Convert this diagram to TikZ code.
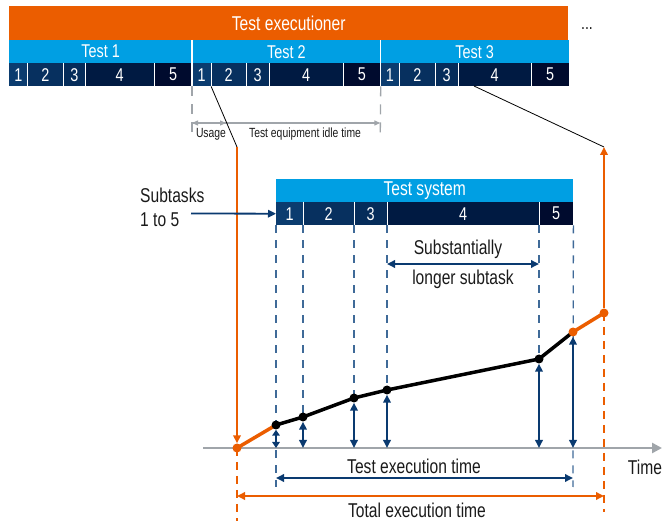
\documentclass[tikz,border=0pt]{standalone}
\usepackage{fontspec}
\setmainfont{Liberation Sans}[FakeStretch=0.78]
\usetikzlibrary{arrows.meta}
\definecolor{rsorange}{HTML}{EB5D00}
\definecolor{rsblue}{HTML}{009FE3}
\definecolor{sa}{HTML}{0B3C6F}
\definecolor{sb}{HTML}{07305F}
\definecolor{sc}{HTML}{052C5A}
\definecolor{sd}{HTML}{001A42}
\definecolor{se}{HTML}{000B2E}
\definecolor{arrblue}{HTML}{0A3A70}
\definecolor{dashblue}{HTML}{3F6A98}
\definecolor{axisgray}{HTML}{A0A5AA}
\definecolor{txt}{HTML}{1A1A1A}
\tikzset{
  bigfont/.style={font=\fontsize{20}{24}\selectfont},
  segfont/.style={font=\fontsize{18.5}{20}\selectfont},
  seg/.style={segfont, text=white, inner sep=0pt, minimum height=23pt, anchor=north west},
  lbl/.style={bigfont, text=txt, inner sep=0pt},
  smalllbl/.style={font=\fontsize{13.3}{15}\selectfont, text=txt, inner sep=0pt},
  barr/.style={draw=arrblue, line width=1.8pt, arrows={Triangle[length=8pt,width=7.5pt]-Triangle[length=8pt,width=7.5pt]}},
  barrone/.style={draw=arrblue, line width=1.8pt, -{Triangle[length=8pt,width=7.5pt]}},
  oarr/.style={draw=rsorange, line width=1.8pt, -{Triangle[length=8pt,width=7.5pt]}},
  oarrtwo/.style={draw=rsorange, line width=1.8pt, {Triangle[length=8pt,width=7.5pt]}-{Triangle[length=8pt,width=7.5pt]}},
  garr/.style={draw=axisgray, line width=1.3pt},
  gdash/.style={draw=axisgray, line width=1.3pt, dash pattern=on 10pt off 8pt},
  bdash/.style={draw=dashblue, line width=1.3pt, dash pattern=on 8pt off 7pt},
  odash/.style={draw=rsorange, line width=1.3pt, dash pattern=on 8pt off 6pt},
  bdot/.style={circle, fill=black, inner sep=0pt, minimum size=9pt},
  odot/.style={circle, fill=rsorange, inner sep=0pt, minimum size=9pt},
  curve/.style={line width=3.5pt, line cap=round, line join=round},
  divider/.style={draw=white, line width=0.8pt},
}
\begin{document}
\begin{tikzpicture}[x=1pt,y=-1pt]
\useasboundingbox (0,0) rectangle (662,521);

% ---- top bars ----
\node[fill=rsorange, text=white, bigfont, inner sep=0pt, minimum width=559pt, minimum height=34pt, anchor=north west] (exec) at (9,6) {Test executioner};
\node[font=\fontsize{18}{20}\selectfont, text=txt, inner sep=0pt, anchor=base] (more) at (587,30) {...};

\foreach \a/\b/\l/\n in {9/192/Test 1/test1, 192/380.3/Test 2/test2, 380.3/568.7/Test 3/test3}{
  \pgfmathsetmacro\w{\b-\a}
  \node[seg, fill=rsblue, minimum width=\w pt] (\n) at (\a,40) {\l};
}
\foreach \a/\b/\c/\l/\n in {
  9/27.3/sa/1/a1, 27.3/63/sb/2/a2, 63/85.3/sc/3/a3, 85.3/153.7/sd/4/a4, 153.7/192/se/5/a5,
  192/210.7/sa/1/b1, 210.7/246.3/sb/2/b2, 246.3/268.7/sc/3/b3, 268.7/343.3/sd/4/b4, 343.3/380.3/se/5/b5,
  380.3/399.3/sa/1/c1, 399.3/435.3/sb/2/c2, 435.3/457.7/sc/3/c3, 457.7/531.3/sd/4/c4, 531.3/568.7/se/5/c5}{
  \pgfmathsetmacro\w{\b-\a}
  \node[seg, fill=\c, minimum width=\w pt] (\n) at (\a,63) {\l};
}
\foreach \n in {a1,a2,a3,a4,b1,b2,b3,b4,c1,c2,c3,c4}{
  \draw[divider] (\n.north east) -- (\n.south east);
}
\draw[draw=white, line width=1.2pt] (test2.north west) -- (b1.south west);
\draw[draw=white, line width=1.2pt] (test3.north west) -- (c1.south west);

% ---- usage / idle ----
\coordinate (g1) at (192,123);
\coordinate (g2) at (226,123);
\coordinate (g3) at (380.3,123);
\coordinate (gd1) at (192,133);
\coordinate (gd2) at (380.3,133);
\draw[gdash] (b1.south west) -- (gd1);
\draw[gdash] (b5.south east) -- (gd2);
\draw[garr, {Triangle[length=6pt,width=5pt]}-{Triangle[length=6pt,width=5pt]}] (g1) -- (g3);
\draw[garr, -{Triangle[length=6pt,width=5pt]}] (g1) -- (g2);
\node[smalllbl] (usage) at (211,134) {Usage};
\node[smalllbl] (idle) at (305,134) {Test equipment idle time};

% ---- test system ----
\node[seg, fill=rsblue, minimum width=297pt, font=\fontsize{20}{22}\selectfont] (tsys) at (276,179) {Test system};
\foreach \a/\b/\c/\l/\n in {276/303/sa/1/ts1, 303/354/sb/2/ts2, 354/387/sc/3/ts3, 387/539/sd/4/ts4, 539/573/se/5/ts5}{
  \pgfmathsetmacro\w{\b-\a}
  \node[seg, fill=\c, minimum width=\w pt] (\n) at (\a,202) {\l};
}
\foreach \n in {ts1,ts2,ts3,ts4}{
  \draw[divider] (\n.north east) -- (\n.south east);
}

\node[lbl, align=left, anchor=west] (subtxt) at (140,207) {Subtasks\\1 to 5};
\coordinate (subarr) at (191,213.5);

% ---- curve points ----
\coordinate (ax0) at (203,448);
\coordinate (ax1) at (662,448);
\coordinate (otop) at (237,147);
\coordinate (otop2) at (604,147);
\coordinate (l2s) at (474,86);
\coordinate (f1) at (276,448);
\coordinate (f2) at (303,448);
\coordinate (f3) at (354,448);
\coordinate (f4) at (387,448);
\coordinate (f5) at (539,448);
\coordinate (f6) at (573,448);
\coordinate (d1) at (276,487);
\coordinate (d6) at (573,487);
\coordinate (od0) at (237,521);
\coordinate (od7) at (604,512);

% dashed guides
\draw[bdash] (ts1.south west) -- (d1);
\draw[bdash] (ts2.south west) -- (303,417);
\draw[bdash] (ts3.south west) -- (354,398);
\draw[bdash] (ts4.south west) -- (387,390);
\draw[bdash] (ts5.south west) -- (539,359);
\draw[bdash] (ts5.south east) -- (d6);
\draw[odash] (237,448) -- (od0);
\draw[odash] (604,313) -- (od7);

% axis
\draw[draw=axisgray, line width=2.8pt, -{Triangle[length=10pt,width=10pt]}] (ax0) -- (ax1);
\node[lbl] (time) at (645,467) {Time};

% thin connectors
\draw[line width=0.8pt, draw=black] (b1.south east) -- (otop);
\draw[line width=0.8pt, draw=black] (l2s) -- (otop2);

% curve
\draw[curve, draw=rsorange] (237,448) -- (276,425);
\draw[curve, draw=black] (276,425) -- (303,417) -- (354,398) -- (387,390) -- (539,359) -- (573,332);
\draw[curve, draw=rsorange] (573,332) -- (604,313);

\node[odot] (p0) at (237,448) {};
\node[bdot] (p1) at (276,425) {};
\node[bdot] (p2) at (303,417) {};
\node[bdot] (p3) at (354,398) {};
\node[bdot] (p4) at (387,390) {};
\node[bdot] (p5) at (539,359) {};
\node[odot] (p6) at (573,332) {};
\node[odot] (p7) at (604,313) {};

% orange verticals
\draw[oarr] (otop) -- (p0);
\draw[oarr] (p7) -- (otop2);

% subtasks arrow
\draw[barrone] (subarr) -- (ts1.west);

% height arrows
\draw[barr, arrows={Triangle[length=6pt,width=7.5pt]-Triangle[length=6pt,width=7.5pt]}] (p1) -- (f1);
\draw[barr] (p2) -- (f2);
\draw[barr] (p3) -- (f3);
\draw[barr] (p4) -- (f4);
\draw[barr] (p5) -- (f5);
\draw[barr] (p6) -- (f6);

% substantially longer
\coordinate (s1) at (387,264);
\coordinate (s2) at (539,264);
\draw[barr] (s1) -- (s2);
\node[lbl] (subst1) at (458,249) {Substantially};
\node[lbl] (subst2) at (463,279) {longer subtask};

% execution times
\coordinate (te1) at (276,478);
\coordinate (te2) at (573,478);
\draw[barr] (te1) -- (te2);
\node[lbl] (tetxt) at (414,466) {Test execution time};
\coordinate (to1) at (237,496);
\coordinate (to2) at (604,496);
\draw[oarrtwo] (to1) -- (to2);
\node[lbl] (tottxt) at (417,510) {Total execution time};
\end{tikzpicture}
\end{document}
